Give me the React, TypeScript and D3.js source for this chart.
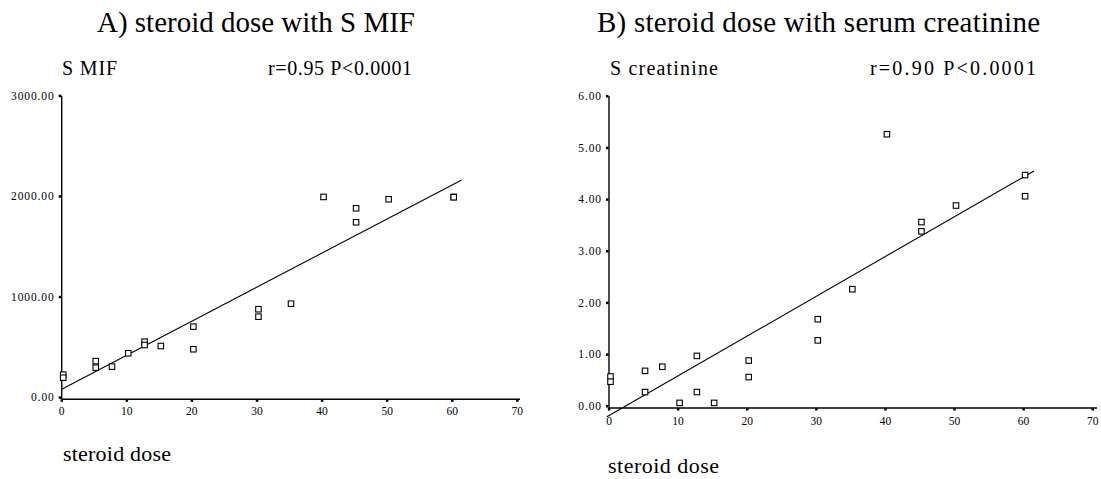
import React from "react";
import * as d3 from "d3";

const doseA = [0, 0, 5, 5, 7.5, 10, 12.5, 12.5, 15, 20, 20, 30, 30, 35, 40, 45, 45, 50, 60, 60];
const mifA = [225, 195, 360, 295, 305, 438, 553, 520, 510, 703, 478, 876, 802, 931, 1993, 1880, 1741, 1970, 1993, 1990];
const fitDoseA = [0, 61.45];
const fitMifA = [80, 2162];

const doseB = [0, 0, 5, 5, 7.5, 10, 12.5, 12.5, 15, 20, 20, 30, 30, 35, 40, 45, 45, 50, 60, 60];
const creatB = [0.57, 0.47, 0.68, 0.27, 0.76, 0.06, 0.97, 0.27, 0.06, 0.88, 0.56, 1.68, 1.27, 2.26, 5.26, 3.56, 3.38, 3.88, 4.47, 4.06];
const fitDoseB = [-0.3, 61.5];
const fitCreatB = [-0.21, 4.55];

const xTicks = [0, 10, 20, 30, 40, 50, 60, 70];
const yTicksA = [0, 1000, 2000, 3000];
const yTicksB = [0, 1, 2, 3, 4, 5, 6];

const FONT = "'Liberation Serif', 'Times New Roman', serif";

type Span = [number, number];

type PanelProps = {
  title: string;
  titleSpan: Span;
  yLabel: string;
  yLabelSpan: Span;
  stat: string;
  statSpan: Span;
  xTitleSpan: Span;
  xs: number[];
  ys: number[];
  fitX: number[];
  fitY: number[];
  yTicks: number[];
  yMax: number;
  xRange: [number, number];
  yRange: [number, number];
  axisEnd: number;
  xLabelY: number;
  xTitleY: number;
};

function Panel(p: PanelProps) {
  const x = d3.scaleLinear().domain([0, 70]).range(p.xRange);
  const y = d3.scaleLinear().domain([0, p.yMax]).range(p.yRange);
  const axisY = y(0) + 2;
  const axisX = x(0);
  const line = d3
    .line<number>()
    .x((d) => x(p.fitX[d]))
    .y((d) => y(p.fitY[d]));
  const s = 5.5;
  return (
    <g fontFamily={FONT} fill="#000">
      <text x={p.titleSpan[0]} y={32} fontSize={29} textLength={p.titleSpan[1] - p.titleSpan[0]} lengthAdjust="spacing">
        {p.title}
      </text>
      <text x={p.yLabelSpan[0]} y={75} fontSize={20} textLength={p.yLabelSpan[1] - p.yLabelSpan[0]} lengthAdjust="spacing">
        {p.yLabel}
      </text>
      <text x={p.statSpan[0]} y={75} fontSize={20} textLength={p.statSpan[1] - p.statSpan[0]} lengthAdjust="spacing">
        {p.stat}
      </text>
      <line x1={axisX} x2={axisX} y1={y(p.yMax)} y2={axisY} stroke="#000" strokeWidth={1.4} />
      <line x1={axisX} x2={p.axisEnd} y1={axisY} y2={axisY} stroke="#000" strokeWidth={1.4} />
      {p.yTicks.map((t) => (
        <g key={"y" + t}>
          <rect x={axisX - 3} y={y(t) - 1} width={2.5} height={2.5} fill="#000" />
          <text x={axisX - 7} y={y(t) + 4} fontSize={11.5} textAnchor="end" letterSpacing={0.9}>
            {t.toFixed(2)}
          </text>
        </g>
      ))}
      {xTicks.map((t) => (
        <g key={"x" + t}>
          <rect x={x(t) - 1.2} y={axisY} width={2.5} height={2.5} fill="#000" />
          <text x={x(t)} y={p.xLabelY} fontSize={11.5} textAnchor="middle">
            {t}
          </text>
        </g>
      ))}
      <path d={line([0, 1]) || ""} fill="none" stroke="#000" strokeWidth={1.1} />
      {p.xs.map((d, i) => (
        <rect
          key={i}
          x={x(d) + 1.5 - s / 2}
          y={y(p.ys[i]) - s / 2}
          width={s}
          height={s}
          fill="#fff"
          stroke="#000"
          strokeWidth={1.1}
        />
      ))}
      <text x={p.xTitleSpan[0]} y={p.xTitleY} fontSize={22} textLength={p.xTitleSpan[1] - p.xTitleSpan[0]} lengthAdjust="spacing">
        steroid dose
      </text>
    </g>
  );
}

export default function App() {
  return (
    <svg width={1101} height={479} style={{ position: "absolute", left: 0, top: 0, display: "block" }}>
      <rect x={0} y={0} width={1101} height={479} fill="#fff" />
      <Panel
        title="A) steroid dose with S MIF"
        titleSpan={[97, 415]}
        yLabel="S MIF"
        yLabelSpan={[62, 117]}
        stat="r=0.95 P<0.0001"
        statSpan={[268, 412]}
        xTitleSpan={[63, 171]}
        xs={doseA}
        ys={mifA}
        fitX={fitDoseA}
        fitY={fitMifA}
        yTicks={yTicksA}
        yMax={3000}
        xRange={[61.7, 517.3]}
        yRange={[397.3, 95.7]}
        axisEnd={520}
        xLabelY={415}
        xTitleY={461}
      />
      <Panel
        title="B) steroid dose with serum creatinine"
        titleSpan={[597, 1040]}
        yLabel="S creatinine"
        yLabelSpan={[610, 718]}
        stat="r=0.90 P<0.0001"
        statSpan={[870, 1036]}
        xTitleSpan={[608, 719]}
        xs={doseB}
        ys={creatB}
        fitX={fitDoseB}
        fitY={fitCreatB}
        yTicks={yTicksB}
        yMax={6}
        xRange={[609, 1092.7]}
        yRange={[406, 96]}
        axisEnd={1097}
        xLabelY={425}
        xTitleY={473}
      />
    </svg>
  );
}
